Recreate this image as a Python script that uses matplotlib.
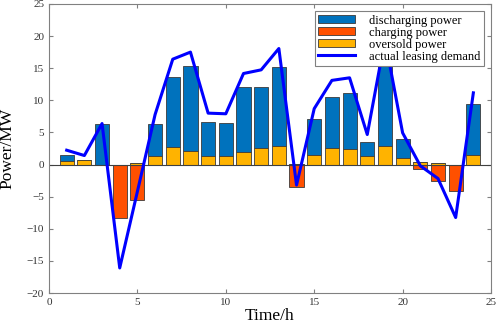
import numpy as np
import matplotlib
matplotlib.use('Agg')
import matplotlib.pyplot as plt

plt.rcParams['font.family'] = ['Liberation Serif', 'DejaVu Serif']

# data
hours = np.arange(1, 25)
oversold = [0.62, 0.78, 0, 0, 0.26, 1.4, 2.8, 2.13, 1.25, 1.35, 1.97, 2.54,
            2.9, 0.1, 1.56, 2.54, 2.49, 1.25, 2.9, 0.99, 0.42, 0.26, 0, 1.56]
discharging = [0.94, 0, 6.38, 0, 0, 4.98, 10.85, 13.23, 5.44, 5.19, 10.17, 9.6,
               12.25, 0, 5.6, 7.99, 8.61, 2.28, 14.6, 3.01, 0, 0, 0, 7.94]
charging = [0, 0, 0, -8.25, -5.55, 0, 0, 0, 0, 0, 0, 0,
            0, -3.48, 0, 0, 0, 0, 0, 0, -0.73, -2.6, -4.05, 0]
demand = [2.23, 1.4, 6.38, -16.1, -4.2, 7.78, 16.4, 17.5, 8.0, 7.9, 14.17, 14.74,
          18.06, -3.2, 8.7, 13.1, 13.5, 4.67, 19.5, 4.93, -0.2, -2.18, -8.25, 11.16]

c_blue = '#0072BD'
c_red = '#FF5000'
c_orange = '#FFB300'
edge = '#3a3a3a'
grey = '#808080'

fig = plt.figure(figsize=(4.98, 3.28), dpi=100)
ax = fig.add_axes([0.0984, 0.1067, 0.8876, 0.8813])

w = 0.8
b1 = ax.bar(hours, discharging, w, bottom=oversold, color=c_blue, edgecolor=edge, linewidth=0.6)
b2 = ax.bar(hours, charging, w, color=c_red, edgecolor=edge, linewidth=0.6)
b3 = ax.bar(hours, oversold, w, color=c_orange, edgecolor=edge, linewidth=0.6)
ax.axhline(0, color='#404040', lw=0.8, zorder=2.5)
ln, = ax.plot(hours, demand, color='#0000FF', lw=2.2, zorder=3)

ax.set_xlim(0, 25)
ax.set_ylim(-20, 25)
ax.set_xticks(np.arange(0, 26, 5))
ax.set_yticks(np.arange(-20, 26, 5))
ax.tick_params(direction='in', length=3, width=0.8, color=grey, labelsize=8,
               labelcolor='#333333', top=True, right=True)
for s in ax.spines.values():
    s.set_color(grey)
    s.set_linewidth(0.8)

ax.set_xlabel('Time/h', fontsize=12.5, labelpad=1)
ax.set_ylabel('Power/MW', fontsize=12.5, labelpad=8)

leg = ax.legend([b1, b2, b3, ln],
                ['discharging power', 'charging power', 'oversold power', 'actual leasing demand'],
                loc='upper right', fontsize=9, fancybox=False, framealpha=1,
                edgecolor=grey, labelspacing=0.0, handlelength=3.0, handleheight=0.6,
                handletextpad=1.1, borderpad=0.25, borderaxespad=0.6)
leg.get_frame().set_linewidth(0.8)

fig.savefig('out.png', dpi=100)
